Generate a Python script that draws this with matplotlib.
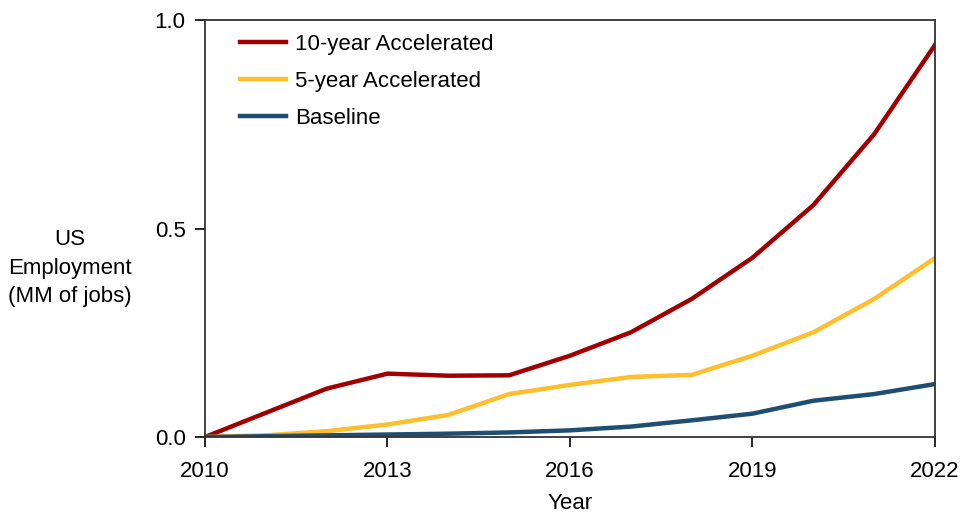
import matplotlib.pyplot as plt
import numpy as np

plt.rcParams['font.family'] = ['Liberation Sans', 'DejaVu Sans']

years = np.arange(2010, 2023)
accel_10 = [0.0, 0.058, 0.116, 0.152, 0.147, 0.148, 0.195, 0.251, 0.331, 0.430, 0.556, 0.726, 0.940]
accel_5 = [0.0, 0.004, 0.014, 0.030, 0.053, 0.103, 0.125, 0.144, 0.149, 0.195, 0.251, 0.331, 0.429]
baseline = [0.0, 0.002, 0.004, 0.006, 0.008, 0.011, 0.016, 0.025, 0.040, 0.056, 0.087, 0.103, 0.127]

fig = plt.figure(figsize=(9.62, 5.17), dpi=100)
ax = fig.add_axes([0.2131, 0.1547, 0.7588, 0.8066])

ax.plot(years, accel_10, color='#a00000', lw=3.2, label='10-year Accelerated')
ax.plot(years, accel_5, color='#fdbf2d', lw=3.2, label='5-year Accelerated')
ax.plot(years, baseline, color='#1f4e72', lw=3.2, label='Baseline')

ax.set_xlim(2010, 2022)
ax.set_ylim(0, 1.0)
ax.set_xticks([2010, 2013, 2016, 2019, 2022])
ax.set_yticks([0.0, 0.5, 1.0])
ax.set_yticklabels(['0.0', '0.5', '1.0'])
ax.tick_params(labelsize=16, length=7, width=1.2, direction='out')
ax.tick_params(axis='x', pad=10)
ax.tick_params(axis='y', pad=7)

for s in ax.spines.values():
    s.set_color('#333333')
    s.set_linewidth(1.3)

ax.set_xlabel('Year', fontsize=16, labelpad=8)
ax.set_ylabel('US\nEmployment\n(MM of jobs)', fontsize=16, rotation=0,
              ha='center', va='center', labelpad=0, linespacing=1.45)
ax.yaxis.set_label_coords(-0.185, 0.405)

ax.legend(loc='upper left', bbox_to_anchor=(0.02, 1.015), frameon=False,
          fontsize=16, handlelength=2.1, labelspacing=0.72, handletextpad=0.4)

fig.savefig('out.png', dpi=100)
